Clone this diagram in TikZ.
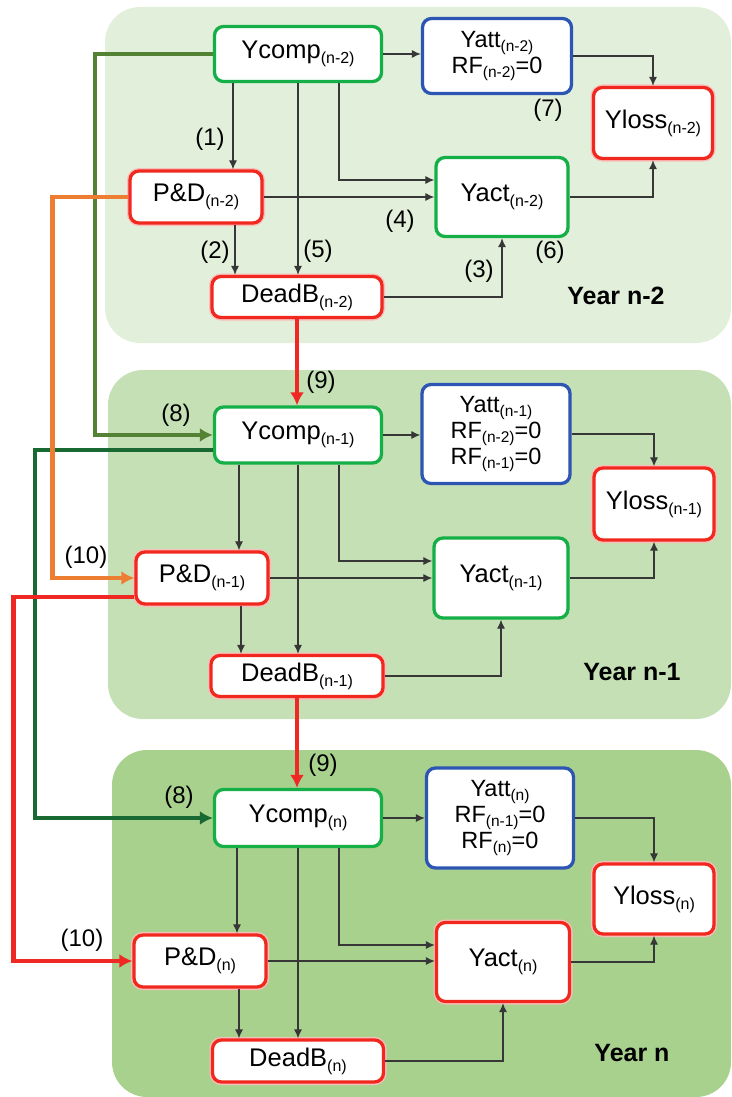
\documentclass[tikz,border=0pt]{standalone}
\usepackage{fontspec}
\setmainfont{Liberation Sans}
\usetikzlibrary{arrows.meta,calc}
\definecolor{pone}{RGB}{226,239,218}
\definecolor{ptwo}{RGB}{197,224,180}
\definecolor{pthree}{RGB}{169,209,142}
\definecolor{bgreen}{RGB}{20,175,70}
\definecolor{bred}{RGB}{240,40,30}
\definecolor{bblue}{RGB}{45,85,180}
\definecolor{olive}{RGB}{84,130,53}
\definecolor{dgreen}{RGB}{25,105,50}
\definecolor{orng}{RGB}{237,125,49}
\definecolor{lred}{RGB}{240,40,35}
\definecolor{thin}{RGB}{55,55,55}
\newcommand{\sbx}[1]{\raisebox{-5pt}{\fontsize{16}{16}\selectfont #1}}
\newcommand{\sba}[1]{\raisebox{-4.5pt}{\fontsize{15.5}{15.5}\selectfont #1}}
\begin{document}
\begin{tikzpicture}[x=1pt,y=-1pt,
  box/.style={draw, line width=3.3pt, rounded corners=9pt, fill=white, inner sep=0pt,
    align=center, font=\fontsize{25.5}{28}\selectfont},
  gbox/.style={box, draw=bgreen},
  rbox/.style={box, draw=bred, preaction={draw=bred!30, line width=6pt}},
  abox/.style={box, draw=bblue, font=\fontsize{23.5}{26}\selectfont},
  panel/.style={rounded corners=35pt, draw=none},
  arr/.style={draw=thin, line width=1.1pt, -{Latex[length=9pt,width=8pt]}},
  thick arr/.style={line width=4.5pt, -{Latex[length=13pt,width=14pt]}},
  lbl/.style={font=\fontsize{24}{26}\selectfont, inner sep=0pt},
  year/.style={font=\bfseries\fontsize{25}{28}\selectfont, inner sep=0pt}]
\useasboundingbox (0,0) rectangle (731,1097);
% panels
\fill[pone, panel] (105,7) rectangle (731,343);
\fill[ptwo, panel] (108,370) rectangle (731,719);
\fill[pthree, panel] (112,750) rectangle (731,1097);

% ---------- Year n-2 ----------
\node[gbox, minimum width=167pt, minimum height=55pt] (yc1) at (298,54) {Ycomp\sbx{(n-2)}};
\node[abox, minimum width=149pt, minimum height=75pt] (ya1) at (497,56) {Yatt\sba{(n-2)}\\RF\sba{(n-2)}=0};
\node[rbox, minimum width=119pt, minimum height=71pt] (yl1) at (653,123) {Yloss\sbx{(n-2)}};
\node[rbox, minimum width=132pt, minimum height=52pt] (pd1) at (196,197) {P\&D\sbx{(n-2)}};
\node[gbox, minimum width=132pt, minimum height=79pt] (yac1) at (502,197) {Yact\sbx{(n-2)}};
\node[rbox, minimum width=170pt, minimum height=41pt] (db1) at (297,297) {DeadB\sbx{(n-2)}};

% ---------- Year n-1 ----------
\node[gbox, minimum width=167pt, minimum height=56pt] (yc2) at (298,435) {Ycomp\sbx{(n-1)}};
\node[abox, minimum width=148pt, minimum height=99pt] (ya2) at (496,434) {Yatt\sba{(n-1)}\\RF\sba{(n-2)}=0\\RF\sba{(n-1)}=0};
\node[rbox, minimum width=120pt, minimum height=72pt] (yl2) at (654,504) {Yloss\sbx{(n-1)}};
\node[rbox, minimum width=132pt, minimum height=52pt] (pd2) at (202,578) {P\&D\sbx{(n-1)}};
\node[gbox, minimum width=134pt, minimum height=80pt] (yac2) at (501,578) {Yact\sbx{(n-1)}};
\node[rbox, minimum width=172pt, minimum height=41pt] (db2) at (297,676) {DeadB\sbx{(n-1)}};

% ---------- Year n ----------
\node[gbox, minimum width=167pt, minimum height=57pt] (yc3) at (298,818) {Ycomp\sbx{(n)}};
\node[abox, minimum width=147pt, minimum height=100pt] (ya3) at (500,818) {Yatt\sba{(n)}\\RF\sba{(n-1)}=0\\RF\sba{(n)}=0};
\node[rbox, minimum width=120pt, minimum height=70pt] (yl3) at (654,899) {Yloss\sbx{(n)}};
\node[rbox, minimum width=132pt, minimum height=52pt] (pd3) at (200,961) {P\&D\sbx{(n)}};
\node[rbox, minimum width=133pt, minimum height=79pt] (yac3) at (503,962) {Yact\sbx{(n)}};
\node[rbox, minimum width=171pt, minimum height=42pt] (db3) at (298,1061) {DeadB\sbx{(n)}};

% thin connectors, each panel
\foreach \i in {1,2,3}{
  \draw[arr] (yc\i.east) -- (yc\i.east -| ya\i.west);
  \draw[arr] (ya\i.east) -| (yl\i.north);
  \draw[arr] (yac\i.east) -| (yl\i.south);
  \draw[arr] (yc\i.south -| {$(pd\i.north)+(37,0)$}) -- ($(pd\i.north)+(37,0)$);
  \draw[arr] (yc\i.south) -- (yc\i.south |- db\i.north);
  \draw[arr] ($(yc\i.south)+(41,0)$) |- ($(yac\i.west)+(0,-17)$);
  \draw[arr] (pd\i.east) -- (pd\i.east -| yac\i.west);
  \draw[arr] ($(pd\i.south)+(39,0)$) -- (db\i.north -| {$(pd\i.south)+(39,0)$});
  \draw[arr] (db\i.east) -| (yac\i.south);
}

% thick cross-year connectors
\draw[thick arr, olive] (yc1.west) -- ++(-118,0) |- (yc2.west);
\draw[thick arr, dgreen] ($(yc2.west)+(0,15)$) -- ++(-178,0) |- (yc3.west);
\draw[thick arr, orng] (pd1.west) -- ++(-76,0) |- (pd2.west);
\draw[thick arr, lred] ($(pd2.west)+(0,19)$) -- ++(-121,0) |- (pd3.west);
\draw[thick arr, lred] (db1.south) -- (db1.south |- yc2.north);
\draw[thick arr, lred] (db2.south) -- (db2.south |- yc3.north);

% labels
\node[lbl] (l1) at (210,139) {(1)};
\node[lbl] (l2) at (215,252) {(2)};
\node[lbl] (l5) at (318,251) {(5)};
\node[lbl] (l4) at (400,221) {(4)};
\node[lbl] (l3) at (479,271) {(3)};
\node[lbl] (l6) at (550,252) {(6)};
\node[lbl] (l7) at (548,110) {(7)};
\node[year] (y1) at (616,296) {Year n-2};
\node[lbl] (l9a) at (321,382) {(9)};
\node[lbl] (l8a) at (176,415) {(8)};
\node[lbl] (l10a) at (86,557) {(10)};
\node[year] (y2) at (632,672) {Year n-1};
\node[lbl] (l9b) at (323,765) {(9)};
\node[lbl] (l8b) at (179,797) {(8)};
\node[lbl] (l10b) at (82,940) {(10)};
\node[year] (y3) at (632,1053) {Year n};
\end{tikzpicture}
\end{document}
